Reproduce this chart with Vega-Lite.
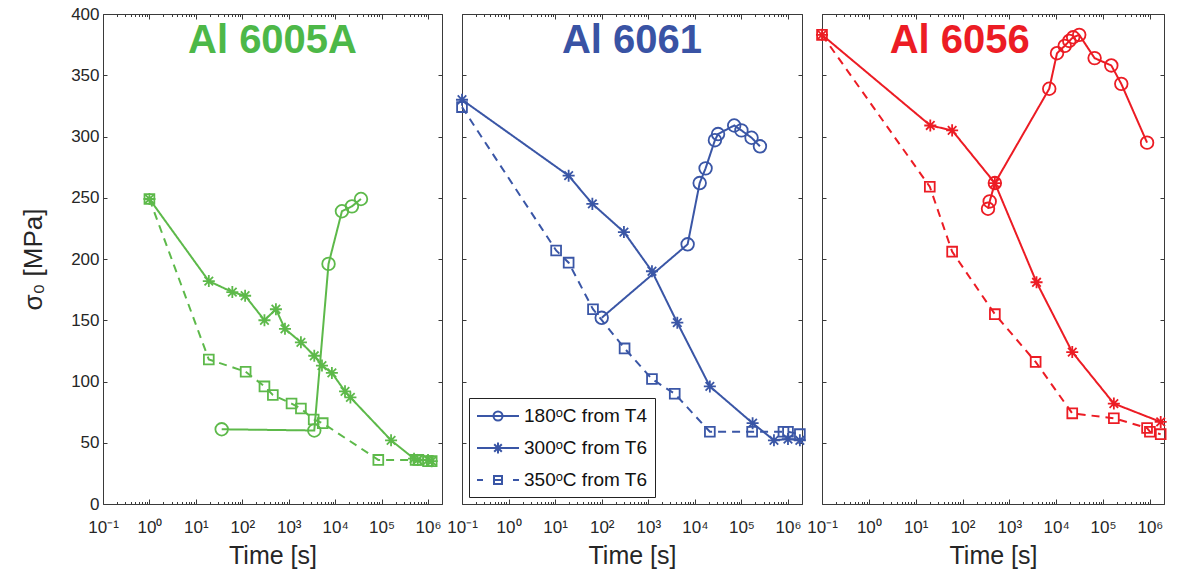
{
"$schema": "https://vega.github.io/schema/vega-lite/v6.json",
"background": "white",
"padding": {"left": 20, "top": 4, "right": 5, "bottom": 5},
"spacing": 20,
"bounds": "flush",
"config": {
  "font": "Liberation Sans",
  "view": {"stroke": "#3a3a3a", "strokeWidth": 1},
  "axis": {"grid": false, "domain": false, "tickColor": "#3a3a3a", "labelColor": "#262626", "labelFontSize": 17, "labelFont": "Liberation Sans", "titleFont": "Liberation Sans", "titleFontWeight": "normal", "titleColor": "#262626", "titleFontSize": 25}
},
"datasets": {"d": [
{"alloy":"6005A","series":"180ᵒC from T4","t":36,"s":61},
{"alloy":"6005A","series":"180ᵒC from T4","t":3550,"s":60},
{"alloy":"6005A","series":"180ᵒC from T4","t":7200,"s":196},
{"alloy":"6005A","series":"180ᵒC from T4","t":14000,"s":239},
{"alloy":"6005A","series":"180ᵒC from T4","t":23000,"s":243},
{"alloy":"6005A","series":"180ᵒC from T4","t":36000,"s":249},
{"alloy":"6005A","series":"300ᵒC from T6","t":1,"s":249},
{"alloy":"6005A","series":"300ᵒC from T6","t":19,"s":182},
{"alloy":"6005A","series":"300ᵒC from T6","t":61,"s":173},
{"alloy":"6005A","series":"300ᵒC from T6","t":115,"s":170},
{"alloy":"6005A","series":"300ᵒC from T6","t":300,"s":150},
{"alloy":"6005A","series":"300ᵒC from T6","t":530,"s":159},
{"alloy":"6005A","series":"300ᵒC from T6","t":830,"s":143},
{"alloy":"6005A","series":"300ᵒC from T6","t":1830,"s":132},
{"alloy":"6005A","series":"300ᵒC from T6","t":3550,"s":121},
{"alloy":"6005A","series":"300ᵒC from T6","t":5200,"s":113},
{"alloy":"6005A","series":"300ᵒC from T6","t":8500,"s":107},
{"alloy":"6005A","series":"300ᵒC from T6","t":16300,"s":92},
{"alloy":"6005A","series":"300ᵒC from T6","t":21300,"s":87},
{"alloy":"6005A","series":"300ᵒC from T6","t":160000,"s":52},
{"alloy":"6005A","series":"300ᵒC from T6","t":500000,"s":37},
{"alloy":"6005A","series":"300ᵒC from T6","t":600000,"s":36},
{"alloy":"6005A","series":"300ᵒC from T6","t":1000000,"s":36},
{"alloy":"6005A","series":"300ᵒC from T6","t":1200000,"s":35},
{"alloy":"6005A","series":"350ᵒC from T6","t":1,"s":249},
{"alloy":"6005A","series":"350ᵒC from T6","t":19,"s":118},
{"alloy":"6005A","series":"350ᵒC from T6","t":118,"s":108},
{"alloy":"6005A","series":"350ᵒC from T6","t":300,"s":96},
{"alloy":"6005A","series":"350ᵒC from T6","t":455,"s":89},
{"alloy":"6005A","series":"350ᵒC from T6","t":1150,"s":82},
{"alloy":"6005A","series":"350ᵒC from T6","t":1830,"s":78},
{"alloy":"6005A","series":"350ᵒC from T6","t":3450,"s":69},
{"alloy":"6005A","series":"350ᵒC from T6","t":5400,"s":66},
{"alloy":"6005A","series":"350ᵒC from T6","t":85000,"s":36},
{"alloy":"6005A","series":"350ᵒC from T6","t":540000,"s":36},
{"alloy":"6005A","series":"350ᵒC from T6","t":620000,"s":36},
{"alloy":"6005A","series":"350ᵒC from T6","t":1000000,"s":35},
{"alloy":"6005A","series":"350ᵒC from T6","t":1200000,"s":35},
{"alloy":"6061","series":"180ᵒC from T4","t":100,"s":152},
{"alloy":"6061","series":"180ᵒC from T4","t":7000,"s":212},
{"alloy":"6061","series":"180ᵒC from T4","t":12700,"s":262},
{"alloy":"6061","series":"180ᵒC from T4","t":17000,"s":274},
{"alloy":"6061","series":"180ᵒC from T4","t":27000,"s":297},
{"alloy":"6061","series":"180ᵒC from T4","t":31500,"s":302},
{"alloy":"6061","series":"180ᵒC from T4","t":70000,"s":309},
{"alloy":"6061","series":"180ᵒC from T4","t":100000,"s":305},
{"alloy":"6061","series":"180ᵒC from T4","t":165000,"s":299},
{"alloy":"6061","series":"180ᵒC from T4","t":250000,"s":292},
{"alloy":"6061","series":"300ᵒC from T6","t":0.1,"s":330},
{"alloy":"6061","series":"300ᵒC from T6","t":19.5,"s":268},
{"alloy":"6061","series":"300ᵒC from T6","t":63,"s":245},
{"alloy":"6061","series":"300ᵒC from T6","t":300,"s":222},
{"alloy":"6061","series":"300ᵒC from T6","t":1200,"s":190},
{"alloy":"6061","series":"300ᵒC from T6","t":4200,"s":148},
{"alloy":"6061","series":"300ᵒC from T6","t":21000,"s":96},
{"alloy":"6061","series":"300ᵒC from T6","t":174000,"s":66},
{"alloy":"6061","series":"300ᵒC from T6","t":500000,"s":52},
{"alloy":"6061","series":"300ᵒC from T6","t":1000000,"s":53},
{"alloy":"6061","series":"300ᵒC from T6","t":1800000,"s":52},
{"alloy":"6061","series":"350ᵒC from T6","t":0.1,"s":324},
{"alloy":"6061","series":"350ᵒC from T6","t":10.5,"s":207},
{"alloy":"6061","series":"350ᵒC from T6","t":19.5,"s":197},
{"alloy":"6061","series":"350ᵒC from T6","t":65,"s":159},
{"alloy":"6061","series":"350ᵒC from T6","t":310,"s":127},
{"alloy":"6061","series":"350ᵒC from T6","t":1200,"s":102},
{"alloy":"6061","series":"350ᵒC from T6","t":3700,"s":90},
{"alloy":"6061","series":"350ᵒC from T6","t":21000,"s":59},
{"alloy":"6061","series":"350ᵒC from T6","t":170000,"s":59},
{"alloy":"6061","series":"350ᵒC from T6","t":800000,"s":59},
{"alloy":"6061","series":"350ᵒC from T6","t":1000000,"s":59},
{"alloy":"6061","series":"350ᵒC from T6","t":1800000,"s":57},
{"alloy":"6056","series":"180ᵒC from T4","t":350,"s":241},
{"alloy":"6056","series":"180ᵒC from T4","t":380,"s":247},
{"alloy":"6056","series":"180ᵒC from T4","t":490,"s":262},
{"alloy":"6056","series":"180ᵒC from T4","t":7100,"s":339},
{"alloy":"6056","series":"180ᵒC from T4","t":10400,"s":368},
{"alloy":"6056","series":"180ᵒC from T4","t":15200,"s":374},
{"alloy":"6056","series":"180ᵒC from T4","t":19000,"s":378},
{"alloy":"6056","series":"180ᵒC from T4","t":23000,"s":381},
{"alloy":"6056","series":"180ᵒC from T4","t":31000,"s":383},
{"alloy":"6056","series":"180ᵒC from T4","t":66000,"s":364},
{"alloy":"6056","series":"180ᵒC from T4","t":150000,"s":358},
{"alloy":"6056","series":"180ᵒC from T4","t":245000,"s":343},
{"alloy":"6056","series":"180ᵒC from T4","t":870000,"s":295},
{"alloy":"6056","series":"300ᵒC from T6","t":0.1,"s":383},
{"alloy":"6056","series":"300ᵒC from T6","t":20.5,"s":309},
{"alloy":"6056","series":"300ᵒC from T6","t":60,"s":305},
{"alloy":"6056","series":"300ᵒC from T6","t":490,"s":262},
{"alloy":"6056","series":"300ᵒC from T6","t":3800,"s":181},
{"alloy":"6056","series":"300ᵒC from T6","t":22000,"s":124},
{"alloy":"6056","series":"300ᵒC from T6","t":170000,"s":82},
{"alloy":"6056","series":"300ᵒC from T6","t":1700000,"s":67},
{"alloy":"6056","series":"350ᵒC from T6","t":0.1,"s":383},
{"alloy":"6056","series":"350ᵒC from T6","t":20,"s":259},
{"alloy":"6056","series":"350ᵒC from T6","t":60,"s":206},
{"alloy":"6056","series":"350ᵒC from T6","t":490,"s":155},
{"alloy":"6056","series":"350ᵒC from T6","t":3640,"s":116},
{"alloy":"6056","series":"350ᵒC from T6","t":22000,"s":74},
{"alloy":"6056","series":"350ᵒC from T6","t":170000,"s":70},
{"alloy":"6056","series":"350ᵒC from T6","t":870000,"s":62},
{"alloy":"6056","series":"350ᵒC from T6","t":1000000,"s":59},
{"alloy":"6056","series":"350ᵒC from T6","t":1700000,"s":57}
]},
"hconcat": [
{
 "width": 339, "height": 490,
 "layer": [
  {"data": {"name": "d"},
   "transform": [{"filter": {"field": "alloy", "equal": "6005A"}}],
   "mark": {"type": "line", "strokeWidth": 2, "color": "#5DB94A"},
   "encoding": {
    "x": {"field": "t", "type": "quantitative", "scale": {"type": "log", "domain": [0.1, 2000000], "nice": false}, "axis": {"orient": "bottom", "title": "Time [s]", "tickCount": 20, "labelOverlap": false, "labelBound": false, "labelFlush": false, "labelPadding": 20, "titlePadding": 6, "tickSize": {"condition": {"test": "abs(log(datum.value)/LN10 - round(log(datum.value)/LN10)) < 0.001", "value": -5}, "value": -2.5}, "labelExpr": "abs(log(datum.value)/LN10 - round(log(datum.value)/LN10)) < 0.001 ? ['10⁻¹','10⁰','10¹','10²','10³','10⁴','10⁵','10⁶','10⁷'][round(log(datum.value)/LN10)+1] : ''"}},
    "y": {"field": "s", "type": "quantitative", "scale": {"domain": [0, 400]}, "axis": {"orient": "left", "tickCount": 8, "tickSize": -4, "labelPadding": 8, "title": "σ₀ [MPa]", "titleFontSize": 26, "titlePadding": 24}},
    "strokeDash": {"field": "series", "type": "nominal", "scale": {"domain": ["180ᵒC from T4", "300ᵒC from T6", "350ᵒC from T6"], "range": [[1, 0], [1, 0], [8, 6]]}, "legend": null}
   }},
  {"data": {"name": "d"},
   "transform": [{"filter": {"field": "alloy", "equal": "6005A"}}],
   "mark": {"type": "point", "filled": false, "strokeWidth": 1.8, "color": "#5DB94A", "opacity": 1, "size": 196},
   "encoding": {
    "x": {"field": "t", "type": "quantitative", "scale": {"type": "log", "domain": [0.1, 2000000], "nice": false}, "axis": {"orient": "top", "labels": false, "title": null, "tickCount": 20, "tickSize": {"condition": {"test": "abs(log(datum.value)/LN10 - round(log(datum.value)/LN10)) < 0.001", "value": -5}, "value": -2.5}}},
    "y": {"field": "s", "type": "quantitative", "scale": {"domain": [0, 400]}, "axis": {"orient": "right", "labels": false, "title": null, "tickCount": 8, "tickSize": -4}},
    "shape": {"field": "series", "type": "nominal", "scale": {"domain": ["180ᵒC from T4", "300ᵒC from T6", "350ᵒC from T6"], "range": ["M0.9,0A0.9,0.9 0 1,1 -0.9,0A0.9,0.9 0 1,1 0.9,0Z", "M-0.86,0L0.86,0M0,-0.86L0,0.86M-0.61,-0.61L0.61,0.61M-0.61,0.61L0.61,-0.61", "M-0.7,-0.7L0.7,-0.7L0.7,0.7L-0.7,0.7Z"]}, "legend": null}
   }},
  {"data": {"values": [{}]},
   "mark": {"type": "text", "text": "Al 6005A", "color": "#4DB848", "fontSize": 40, "fontWeight": "bold", "font": "Liberation Sans", "align": "center", "baseline": "alphabetic"},
   "encoding": {"x": {"datum": 447.2, "axis": null}, "y": {"datum": 368, "axis": null}}}
 ],
 "resolve": {"axis": {"x": "independent", "y": "independent"}}
},
{
 "width": 340, "height": 490,
 "layer": [
  {"data": {"name": "d"},
   "transform": [{"filter": {"field": "alloy", "equal": "6061"}}],
   "mark": {"type": "line", "strokeWidth": 2, "color": "#3A56A6"},
   "encoding": {
    "x": {"field": "t", "type": "quantitative", "scale": {"type": "log", "domain": [0.1, 2000000], "nice": false}, "axis": {"orient": "bottom", "title": "Time [s]", "tickCount": 20, "labelOverlap": false, "labelBound": false, "labelFlush": false, "labelPadding": 20, "titlePadding": 6, "tickSize": {"condition": {"test": "abs(log(datum.value)/LN10 - round(log(datum.value)/LN10)) < 0.001", "value": -5}, "value": -2.5}, "labelExpr": "abs(log(datum.value)/LN10 - round(log(datum.value)/LN10)) < 0.001 ? ['10⁻¹','10⁰','10¹','10²','10³','10⁴','10⁵','10⁶','10⁷'][round(log(datum.value)/LN10)+1] : ''"}},
    "y": {"field": "s", "type": "quantitative", "scale": {"domain": [0, 400]}, "axis": {"orient": "left", "tickCount": 8, "tickSize": -4, "labels": false, "title": null}},
    "strokeDash": {"field": "series", "type": "nominal", "scale": {"domain": ["180ᵒC from T4", "300ᵒC from T6", "350ᵒC from T6"], "range": [[1, 0], [1, 0], [8, 6]]}, "legend": null}
   }},
  {"data": {"name": "d"},
   "transform": [{"filter": {"field": "alloy", "equal": "6061"}}],
   "mark": {"type": "point", "filled": false, "strokeWidth": 1.8, "color": "#3A56A6", "opacity": 1, "size": 196},
   "encoding": {
    "x": {"field": "t", "type": "quantitative", "scale": {"type": "log", "domain": [0.1, 2000000], "nice": false}, "axis": {"orient": "top", "labels": false, "title": null, "tickCount": 20, "tickSize": {"condition": {"test": "abs(log(datum.value)/LN10 - round(log(datum.value)/LN10)) < 0.001", "value": -5}, "value": -2.5}}},
    "y": {"field": "s", "type": "quantitative", "scale": {"domain": [0, 400]}, "axis": {"orient": "right", "labels": false, "title": null, "tickCount": 8, "tickSize": -4}},
    "shape": {"field": "series", "type": "nominal", "scale": {"domain": ["180ᵒC from T4", "300ᵒC from T6", "350ᵒC from T6"], "range": ["M0.9,0A0.9,0.9 0 1,1 -0.9,0A0.9,0.9 0 1,1 0.9,0Z", "M-0.86,0L0.86,0M0,-0.86L0,0.86M-0.61,-0.61L0.61,0.61M-0.61,0.61L0.61,-0.61", "M-0.7,-0.7L0.7,-0.7L0.7,0.7L-0.7,0.7Z"]}, "legend": null}
   }},
  {"data": {"name": "d"},
   "transform": [{"filter": "datum.t < 0"}],
   "mark": {"type": "point", "filled": false, "strokeWidth": 2, "color": "#3A56A6", "opacity": 1},
   "encoding": {
    "x": {"field": "t", "type": "quantitative", "scale": {"type": "log", "domain": [0.1, 2000000], "nice": false}, "axis": null},
    "y": {"field": "s", "type": "quantitative", "scale": {"domain": [0, 400]}, "axis": null},
    "shape": {"field": "series", "type": "nominal", "scale": {"domain": ["180ᵒC from T4", "300ᵒC from T6", "350ᵒC from T6"], "range": ["M-1,0L3.2,0M1.55,0A0.45,0.45 0 1,1 0.65,0A0.45,0.45 0 1,1 1.55,0", "M-1,0L3.2,0M1.1,-0.55L1.1,0.55M0.72,-0.38L1.48,0.38M0.72,0.38L1.48,-0.38", "M-1,0L-0.4,0M0.7,0L1.5,0M2.6,0L3.2,0M0.7,-0.4L1.5,-0.4L1.5,0.4L0.7,0.4Z"]},
     "legend": {"orient": "bottom-left", "offset": 7, "title": null, "labelFontSize": 19, "labelFont": "Liberation Sans", "labelColor": "#111111", "strokeColor": "#222222", "fillColor": "white", "padding": 7, "rowPadding": 11, "symbolSize": 400, "symbolStrokeWidth": 2, "symbolStrokeColor": "#3A56A6", "symbolFillColor": "transparent", "labelOffset": 26}}
   }},
  {"data": {"values": [{}]},
   "mark": {"type": "text", "text": "Al 6061", "color": "#3953A4", "fontSize": 40, "fontWeight": "bold", "font": "Liberation Sans", "align": "center", "baseline": "alphabetic"},
   "encoding": {"x": {"datum": 447.2, "axis": null}, "y": {"datum": 368, "axis": null}}}
 ],
 "resolve": {"axis": {"x": "independent", "y": "independent"}, "scale": {"shape": "independent"}}
},
{
 "width": 342, "height": 490,
 "layer": [
  {"data": {"name": "d"},
   "transform": [{"filter": {"field": "alloy", "equal": "6056"}}],
   "mark": {"type": "line", "strokeWidth": 2, "color": "#EC1C24"},
   "encoding": {
    "x": {"field": "t", "type": "quantitative", "scale": {"type": "log", "domain": [0.1, 2000000], "nice": false}, "axis": {"orient": "bottom", "title": "Time [s]", "tickCount": 20, "labelOverlap": false, "labelBound": false, "labelFlush": false, "labelPadding": 20, "titlePadding": 6, "tickSize": {"condition": {"test": "abs(log(datum.value)/LN10 - round(log(datum.value)/LN10)) < 0.001", "value": -5}, "value": -2.5}, "labelExpr": "abs(log(datum.value)/LN10 - round(log(datum.value)/LN10)) < 0.001 ? ['10⁻¹','10⁰','10¹','10²','10³','10⁴','10⁵','10⁶','10⁷'][round(log(datum.value)/LN10)+1] : ''"}},
    "y": {"field": "s", "type": "quantitative", "scale": {"domain": [0, 400]}, "axis": {"orient": "left", "tickCount": 8, "tickSize": -4, "labels": false, "title": null}},
    "strokeDash": {"field": "series", "type": "nominal", "scale": {"domain": ["180ᵒC from T4", "300ᵒC from T6", "350ᵒC from T6"], "range": [[1, 0], [1, 0], [8, 6]]}, "legend": null}
   }},
  {"data": {"name": "d"},
   "transform": [{"filter": {"field": "alloy", "equal": "6056"}}],
   "mark": {"type": "point", "filled": false, "strokeWidth": 1.8, "color": "#EC1C24", "opacity": 1, "size": 196},
   "encoding": {
    "x": {"field": "t", "type": "quantitative", "scale": {"type": "log", "domain": [0.1, 2000000], "nice": false}, "axis": {"orient": "top", "labels": false, "title": null, "tickCount": 20, "tickSize": {"condition": {"test": "abs(log(datum.value)/LN10 - round(log(datum.value)/LN10)) < 0.001", "value": -5}, "value": -2.5}}},
    "y": {"field": "s", "type": "quantitative", "scale": {"domain": [0, 400]}, "axis": {"orient": "right", "labels": false, "title": null, "tickCount": 8, "tickSize": -4}},
    "shape": {"field": "series", "type": "nominal", "scale": {"domain": ["180ᵒC from T4", "300ᵒC from T6", "350ᵒC from T6"], "range": ["M0.9,0A0.9,0.9 0 1,1 -0.9,0A0.9,0.9 0 1,1 0.9,0Z", "M-0.86,0L0.86,0M0,-0.86L0,0.86M-0.61,-0.61L0.61,0.61M-0.61,0.61L0.61,-0.61", "M-0.7,-0.7L0.7,-0.7L0.7,0.7L-0.7,0.7Z"]}, "legend": null}
   }},
  {"data": {"values": [{}]},
   "mark": {"type": "text", "text": "Al 6056", "color": "#EC1C24", "fontSize": 40, "fontWeight": "bold", "font": "Liberation Sans", "align": "center", "baseline": "alphabetic"},
   "encoding": {"x": {"datum": 87, "axis": null}, "y": {"datum": 368, "axis": null}}}
 ],
 "resolve": {"axis": {"x": "independent", "y": "independent"}}
}
]
}
